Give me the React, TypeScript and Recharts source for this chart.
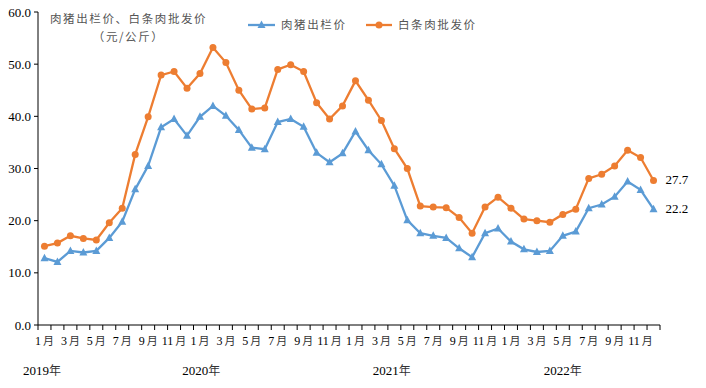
import { LineChart, Line, XAxis, YAxis } from 'recharts'

const years = ['2019', '2020', '2021', '2022']
const months = ['1', '2', '3', '4', '5', '6', '7', '8', '9', '10', '11', '12']

// 肉猪出栏价 (元/公斤), 2019-01 .. 2022-12
const hogPrice = [
  12.8, 12.1, 14.2, 13.9, 14.2, 16.7, 19.8, 26.0, 30.5, 37.9, 39.5, 36.3,
  39.9, 42.0, 40.1, 37.4, 34.0, 33.7, 38.9, 39.5, 38.0, 33.0, 31.2, 32.9,
  37.1, 33.5, 30.8, 26.7, 20.1, 17.6, 17.1, 16.7, 14.7, 13.0, 17.6, 18.5,
  16.0, 14.5, 14.0, 14.2, 17.1, 17.9, 22.4, 23.1, 24.6, 27.5, 25.9, 22.2,
]
// 白条肉批发价 (元/公斤)
const porkPrice = [
  15.1, 15.7, 17.1, 16.6, 16.3, 19.6, 22.4, 32.7, 39.9, 47.9, 48.6, 45.4,
  48.2, 53.2, 50.3, 45.0, 41.4, 41.6, 49.0, 49.9, 48.6, 42.6, 39.5, 42.0,
  46.8, 43.1, 39.2, 33.8, 30.0, 22.8, 22.6, 22.5, 20.6, 17.6, 22.6, 24.5,
  22.4, 20.3, 20.0, 19.7, 21.2, 22.2, 28.1, 28.9, 30.5, 33.5, 32.1, 27.7,
]
const yTicks = [0, 10, 20, 30, 40, 50, 60]

const N = hogPrice.length
const PLOT_W = 622
const STEP = PLOT_W / N
// where the year captions sit, in month units from the left of the axis
const yearPos = [-0.2, 12.1, 26.8, 40.0]

const BLUE = '#5B9BD5'
const ORANGE = '#ED7D31'
const SERIF = '"Liberation Serif", "Times New Roman", serif'
const CJK = '"Noto Sans CJK SC", sans-serif'
const CJK_GREY = '#555'

const data = hogPrice.map((v, i) => ({
  x: i + 0.5,
  label: `${years[Math.floor(i / 12)]}年${months[i % 12]}月`,
  hog: v,
  pork: porkPrice[i],
}))
const boundaryTicks = Array.from({ length: N + 1 }, (_, i) => i)

const Triangle = (p: any) => {
  const { cx, cy } = p
  if (cx == null || cy == null) return <g key={p.key} />
  return <path key={p.key} d={`M${cx},${cy - 4.5} L${cx + 4},${cy + 3} L${cx - 4},${cy + 3} Z`} fill={BLUE} />
}

const MonthTick = (p: any) => {
  const { x, y, payload } = p
  const v = payload.value as number
  return (
    <g>
      {v < N && v % 2 === 0 && (
        <text x={x + STEP / 2} y={y + 13} textAnchor="middle" fontSize={12} fontFamily={SERIF} fill="#000">
          {months[v % 12]}
          <tspan dx={2} fontFamily={CJK} fontSize={11} fill="#333">月</tspan>
        </text>
      )}
      {v === 0 &&
        years.map((yr, k) => (
          <text key={yr} x={x + (yearPos[k] + 0.5) * STEP} y={y + 43} textAnchor="middle" fontSize={13} fontFamily={SERIF} fill="#000">
            {yr}
            <tspan fontFamily={CJK} fontSize={12} fill="#333">年</tspan>
          </text>
        ))}
    </g>
  )
}

const lastLabel = (p: any) => {
  if (p.index !== N - 1) return null
  return (
    <text x={p.x + 12} y={p.y + 4} fontSize={13} fontFamily={SERIF} fill="#000">
      {Number(p.value).toFixed(1)}
    </text>
  )
}

export default function App() {
  return (
    <div style={{ position: 'absolute', left: 0, top: 0, width: 706, height: 388, background: '#fff' }}>
      <LineChart width={706} height={388} data={data} margin={{ top: 12, right: 46, bottom: 3, left: 0 }}>
        <XAxis
          dataKey="x"
          type="number"
          domain={[0, N]}
          ticks={boundaryTicks}
          interval={0}
          height={60}
          tickSize={5}
          tickMargin={2}
          stroke="#000"
          tick={MonthTick}
        />
        <YAxis
          domain={[0, 60]}
          ticks={yTicks}
          interval={0}
          width={38}
          tickSize={4}
          tickMargin={3}
          stroke="#000"
          tickFormatter={(v: number) => v.toFixed(1)}
          tick={{ fontSize: 13, fontFamily: SERIF, fill: '#000' }}
        />
        <Line
          dataKey="pork"
          stroke={ORANGE}
          strokeWidth={2.3}
          dot={{ r: 3.5, fill: ORANGE, stroke: ORANGE, strokeWidth: 0 }}
          label={lastLabel}
          isAnimationActive={false}
        />
        <Line
          dataKey="hog"
          stroke={BLUE}
          strokeWidth={2.3}
          dot={Triangle}
          label={lastLabel}
          isAnimationActive={false}
        />
      </LineChart>

      <div style={{ position: 'absolute', left: 50, top: 9, fontFamily: CJK, fontSize: 11.5, letterSpacing: 1.6, color: CJK_GREY, lineHeight: '18px', textAlign: 'center', whiteSpace: 'nowrap' }}>
        <div>肉猪出栏价、白条肉批发价</div>
        <div>（元/公斤）</div>
      </div>

      <svg width={300} height={20} style={{ position: 'absolute', left: 244, top: 15 }}>
        <line x1={4} y1={10} x2={31} y2={10} stroke={BLUE} strokeWidth={2.3} />
        <path d="M17.5,5.5 L21.5,13 L13.5,13 Z" fill={BLUE} />
        <text x={37} y={14} fontSize={11.5} letterSpacing={1.6} fontFamily={CJK} fill={CJK_GREY}>肉猪出栏价</text>
        <line x1={122} y1={10} x2={148} y2={10} stroke={ORANGE} strokeWidth={2.3} />
        <circle cx={135} cy={10} r={3.5} fill={ORANGE} />
        <text x={154} y={14} fontSize={11.5} letterSpacing={1.6} fontFamily={CJK} fill={CJK_GREY}>白条肉批发价</text>
      </svg>
    </div>
  )
}
